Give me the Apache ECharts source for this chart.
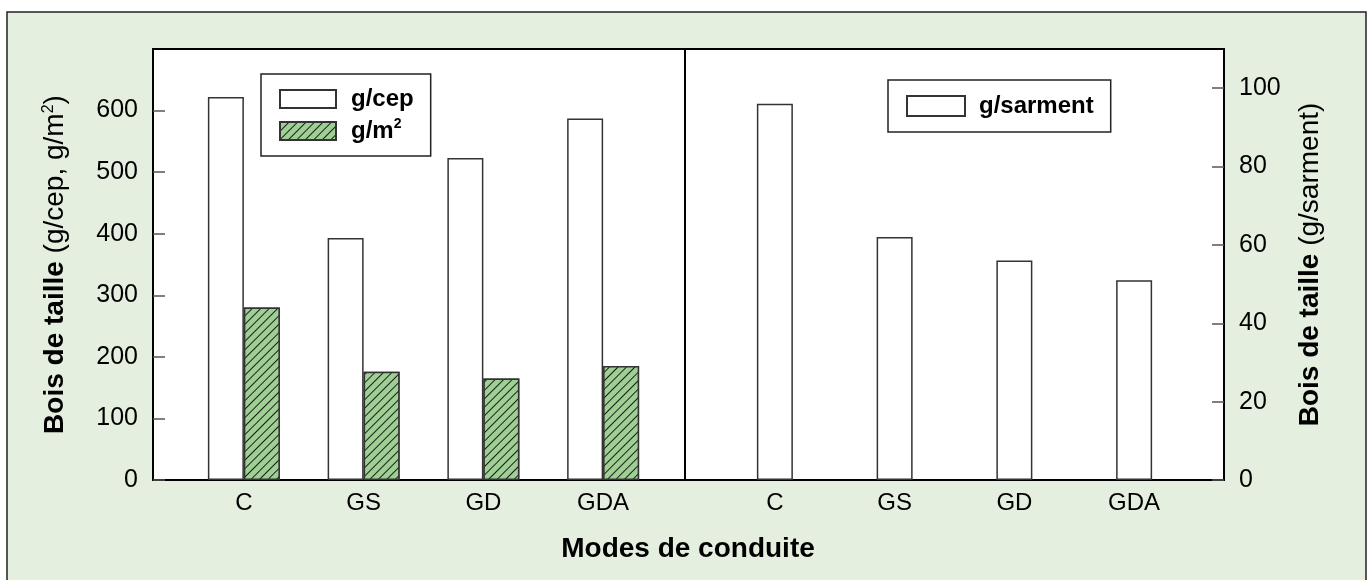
<!DOCTYPE html>
<html>
<head>
<meta charset="utf-8">
<script src="https://cdn.jsdelivr.net/npm/echarts@6/dist/echarts.min.js"></script>
<style>
html,body{margin:0;padding:0;background:#fff;}
#c{width:1370px;height:580px;}
</style>
</head>
<body>
<div id="c"></div>
<script>
const categories = ['C', 'GS', 'GD', 'GDA'];
const gCep = [622, 393, 523, 587];
const gM2 = [280, 176, 165, 185];
const gSarment = [96, 62, 56, 51];
const leftAxisMax = 700;
const rightAxisMax = 110;

const FONT = 'Liberation Sans, Arial, sans-serif';
const chart = echarts.init(document.getElementById('c'), null, {renderer: 'canvas'});

const barBorder = {borderColor: '#333', borderWidth: 1.5};

const option = {
  animation: false,
  textStyle: {fontFamily: FONT},
  graphic: [{
    type: 'rect', z: -10, silent: true,
    shape: {x: 7, y: 12, width: 1359, height: 600},
    style: {fill: '#e4efdf', stroke: '#222', lineWidth: 1.5}
  }],
  grid: [
    {left: 153, top: 49, width: 532, height: 431, show: true, backgroundColor: '#fff', borderColor: '#000', borderWidth: 2},
    {left: 685, top: 49, width: 539, height: 431, show: true, backgroundColor: '#fff', borderColor: '#000', borderWidth: 2},
    {left: 184, top: 49, width: 479, height: 431},
    {left: 715, top: 49, width: 479, height: 431}
  ],
  xAxis: [
    {gridIndex: 0, type: 'category', data: categories, show: false},
    {gridIndex: 1, type: 'category', data: categories, show: false},
    {gridIndex: 2, type: 'category', data: categories,
     axisLine: {show: false}, axisTick: {show: false},
     axisLabel: {fontSize: 24, color: '#000', margin: 11, fontFamily: FONT}},
    {gridIndex: 3, type: 'category', data: categories,
     axisLine: {show: false}, axisTick: {show: false},
     axisLabel: {fontSize: 24, color: '#000', margin: 11, fontFamily: FONT}}
  ],
  yAxis: [
    {gridIndex: 0, type: 'value', min: 0, max: leftAxisMax, interval: 100, position: 'left',
     splitLine: {show: false},
     axisLine: {show: false, onZero: false},
     axisTick: {show: true, inside: true, length: 12, lineStyle: {color: '#555', width: 1.5}},
     axisLabel: {fontSize: 25, color: '#000', margin: 15, showMaxLabel: false, fontFamily: FONT},
     name: '{b|Bois de taille }{n|(g/cep, g/m}{s|2}{n|)}',
     nameLocation: 'middle', nameGap: 84,
     nameTextStyle: {rich: {
       b: {fontSize: 28, fontWeight: 'bold', color: '#000', fontFamily: FONT},
       n: {fontSize: 28, color: '#000', fontFamily: FONT},
       s: {fontSize: 16, color: '#000', verticalAlign: 'top', fontFamily: FONT}
     }}},
    {gridIndex: 1, type: 'value', min: 0, max: rightAxisMax, interval: 20, position: 'right',
     splitLine: {show: false},
     axisLine: {show: false, onZero: false},
     axisTick: {show: true, inside: true, length: 12, lineStyle: {color: '#555', width: 1.5}},
     axisLabel: {fontSize: 25, color: '#000', margin: 15, showMaxLabel: false, fontFamily: FONT},
     name: '{b|Bois de taille }{n|(g/sarment)}',
     nameLocation: 'middle', nameGap: 72,
     nameTextStyle: {rich: {
       b: {fontSize: 28, fontWeight: 'bold', color: '#000', fontFamily: FONT},
       n: {fontSize: 28, color: '#000', fontFamily: FONT}
     }}},
    {gridIndex: 2, type: 'value', min: 0, max: leftAxisMax, show: false},
    {gridIndex: 3, type: 'value', min: 0, max: rightAxisMax, show: false}
  ],
  legend: [
    {data: ['g/cep', 'g/m2'], orient: 'vertical', left: 261, top: 74,
     padding: [13, 17, 13, 18], itemGap: 6, itemWidth: 56, itemHeight: 18, icon: 'rect',
     borderColor: '#222', borderWidth: 1.5, backgroundColor: '#fff',
     formatter: function (n) { return n === 'g/m2' ? '{t|g/m}{s|2}' : '{t|' + n + '}'; },
     textStyle: {padding: [0, 0, 0, 10], rich: {
       t: {fontSize: 24, fontWeight: 'bold', color: '#000', fontFamily: FONT, height: 28},
       s: {fontSize: 14, fontWeight: 'bold', color: '#000', verticalAlign: 'top', fontFamily: FONT}
     }}},
    {data: ['g/sarment'], orient: 'vertical', left: 888, top: 80,
     padding: [14, 17, 14, 18], itemWidth: 58, itemHeight: 20, icon: 'rect',
     borderColor: '#222', borderWidth: 1.5, backgroundColor: '#fff',
     textStyle: {fontSize: 24, fontWeight: 'bold', color: '#000', fontFamily: FONT, padding: [0, 0, 0, 9]}}
  ],
  title: {
    text: 'Modes de conduite', left: 683, top: 530, textAlign: 'center',
    textStyle: {fontSize: 28, fontWeight: 'bold', color: '#000', fontFamily: FONT}
  },
  series: [
    {name: 'g/cep', type: 'bar', xAxisIndex: 2, yAxisIndex: 2, data: gCep,
     barWidth: 36, barGap: '0%',
     itemStyle: Object.assign({color: '#fff'}, barBorder)},
    {name: 'g/m2', type: 'bar', xAxisIndex: 2, yAxisIndex: 2, data: gM2,
     barWidth: 36, barGap: '0%',
     itemStyle: Object.assign({
       color: '#9fcf95',
       decal: {symbol: 'rect', color: 'rgba(0,0,0,0.85)', backgroundColor: '#9fcf95',
               dashArrayX: [[1, 0]], dashArrayY: [1, 5], rotation: -Math.PI / 4, symbolSize: 1}
     }, barBorder)},
    {name: 'g/sarment', type: 'bar', xAxisIndex: 3, yAxisIndex: 3, data: gSarment,
     barWidth: 36,
     itemStyle: Object.assign({color: '#fff'}, barBorder)}
  ]
};
chart.setOption(option);
</script>
</body>
</html>
